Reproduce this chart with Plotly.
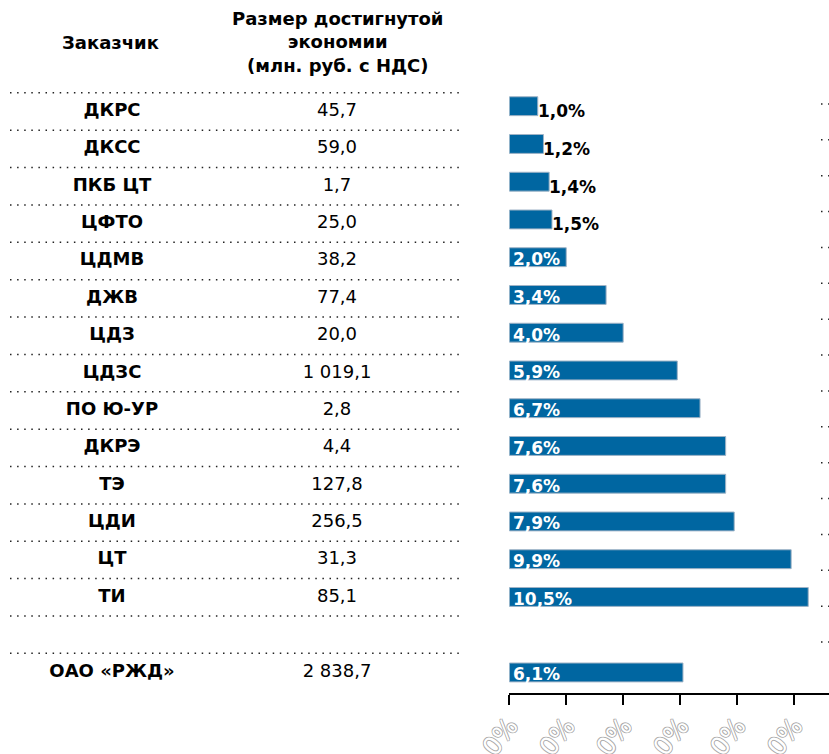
import plotly.graph_objects as go

# ---------------- data ----------------
customers = ["ДКРС", "ДКСС", "ПКБ ЦТ", "ЦФТО", "ЦДМВ", "ДЖВ", "ЦДЗ", "ЦДЗС",
             "ПО Ю-УР", "ДКРЭ", "ТЭ", "ЦДИ", "ЦТ", "ТИ", "", "ОАО «РЖД»"]
savings = [45.7, 59.0, 1.7, 25.0, 38.2, 77.4, 20.0, 1019.1,
           2.8, 4.4, 127.8, 256.5, 31.3, 85.1, None, 2838.7]
shares = [1.0, 1.2, 1.4, 1.5, 2.0, 3.4, 4.0, 5.9,
          6.7, 7.6, 7.6, 7.9, 9.9, 10.5, None, 6.1]
tick_values = [0, 2, 4, 6, 8, 10]
tick_labels = ["0%", "0%", "0%", "0%", "0%", "0%"]
header_customer = "Заказчик"
header_savings = "Размер достигнутой<br>экономии<br>(млн. руб. с НДС)"
right_separators = 16

# ---------------- helpers / styles ----------------
W, H = 829, 754
FONT = "DejaVu Sans"
BAR_COLOR = "#0066a1"
INSIDE_MIN = 2.0


def fmt_num(v):
    if v is None:
        return ""
    return f"{v:,.1f}".replace(",", " ").replace(".", ",")


def fmt_pct(v):
    return f"{v:.1f}%".replace(".", ",")


rows = list(range(len(customers)))

# pixel layout
plot_top, plot_bottom = 80, 693
y_dom = [(H - plot_bottom) / H, (H - plot_top) / H]
bar_row0, bar_step = 106.2, 37.75
tab_row0, tab_step = 111.5, 37.37
rs_row0, rs_step = 104.0, 35.87
x0_px, px_per_pct = 509.3, 28.47


def rng(row0, step):
    return [(plot_bottom - row0) / step, (plot_top - row0) / step]


fig = go.Figure()

# bars
fig.add_trace(go.Bar(
    x=shares, y=rows, orientation="h", width=0.5,
    marker=dict(color=BAR_COLOR, line=dict(color="#9fb3c6", width=1)),
    xaxis="x", yaxis="y", hoverinfo="skip", showlegend=False,
))

annotations = []
for r, v in zip(rows, shares):
    if v is None:
        continue
    if v >= INSIDE_MIN:
        annotations.append(dict(x=0, y=r, xref="x", yref="y", text=f"<b>{fmt_pct(v)}</b>",
                                showarrow=False, xanchor="left", yanchor="middle",
                                xshift=2, yshift=-2,
                                font=dict(family=FONT, size=17, color="white")))
    else:
        annotations.append(dict(x=v, y=r, xref="x", yref="y", text=f"<b>{fmt_pct(v)}</b>",
                                showarrow=False, xanchor="left", yanchor="middle",
                                xshift=-2, yshift=-5,
                                font=dict(family=FONT, size=17, color="black")))

# table text
fig.add_trace(go.Scatter(
    x=[112] * len(rows), y=rows, mode="text",
    text=[f"<b>{c}</b>" if c else "" for c in customers],
    textposition="middle center",
    textfont=dict(family=FONT, size=18, color="black"),
    xaxis="x2", yaxis="y2", hoverinfo="skip", showlegend=False,
))
fig.add_trace(go.Scatter(
    x=[337] * len(rows), y=rows, mode="text",
    text=[fmt_num(v) for v in savings],
    textposition="middle center",
    textfont=dict(family=FONT, size=18, color="black"),
    xaxis="x2", yaxis="y2", hoverinfo="skip", showlegend=False,
))

# dotted separators in the table
sx, sy = [], []
for r in rows:
    sx += [10, 462, None]
    sy += [r - 0.5, r - 0.5, None]
fig.add_trace(go.Scatter(
    x=sx, y=sy, mode="lines",
    line=dict(color="#222", width=1.5, dash="1.5px,5.6px"),
    xaxis="x2", yaxis="y2", hoverinfo="skip", showlegend=False,
))

# dotted separators of the clipped column on the right
rx, ry = [], []
for k in range(right_separators):
    rx += [1, 12, None]
    ry += [k, k, None]
fig.add_trace(go.Scatter(
    x=rx, y=ry, mode="lines",
    line=dict(color="#222", width=1.5, dash="1.5px,5.6px"),
    xaxis="x3", yaxis="y3", hoverinfo="skip", showlegend=False,
))

# headers
hy = (H - 42) / H
annotations.append(dict(x=110, y=hy, xref="x2", yref="paper", text=f"<b>{header_customer}</b>",
                        showarrow=False, xanchor="center", yanchor="middle",
                        font=dict(family=FONT, size=18, color="black")))
annotations.append(dict(x=337, y=hy, xref="x2", yref="paper", text=f"<b>{header_savings}</b>",
                        showarrow=False, xanchor="center", yanchor="middle",
                        font=dict(family=FONT, size=18, color="black")))

x_max = (W - x0_px) / px_per_pct

fig.update_layout(
    width=W, height=H,
    margin=dict(l=0, r=0, t=0, b=0, autoexpand=False),
    paper_bgcolor="white", plot_bgcolor="rgba(0,0,0,0)",
    showlegend=False,
    annotations=annotations,
    xaxis=dict(domain=[x0_px / W, 1], range=[0, x_max], showgrid=False, zeroline=False,
               showline=True, linecolor="black", linewidth=2,
               ticks="outside", ticklen=10, tickwidth=2, tickcolor="black",
               tickvals=tick_values, ticktext=tick_labels, tickangle=-52,
               ticklabelstandoff=-4,
               tickfont=dict(family=FONT, size=25, color="white",
                             shadow="1px 0 #aaa, -1px 0 #aaa, 0 1px #aaa, 0 -1px #aaa"),
               automargin=False, anchor="y", fixedrange=True),
    yaxis=dict(domain=y_dom, range=rng(bar_row0, bar_step), showgrid=False, zeroline=False,
               showticklabels=False, showline=False, anchor="x", fixedrange=True,
               automargin=False),
    xaxis2=dict(domain=[0, 480 / W], range=[0, 480], visible=False, anchor="y2",
                fixedrange=True, automargin=False),
    yaxis2=dict(domain=y_dom, range=rng(tab_row0, tab_step), visible=False, anchor="x2",
                fixedrange=True, automargin=False),
    xaxis3=dict(domain=[820 / W, 1], range=[0, W - 820], visible=False, anchor="y3",
                fixedrange=True, automargin=False),
    yaxis3=dict(domain=y_dom, range=rng(rs_row0, rs_step), visible=False, anchor="x3",
                fixedrange=True, automargin=False),
)

fig.write_html(
    "out.html",
    config={"displayModeBar": False},
    post_script="document.body.style.margin='0';document.body.style.padding='0';",
)
